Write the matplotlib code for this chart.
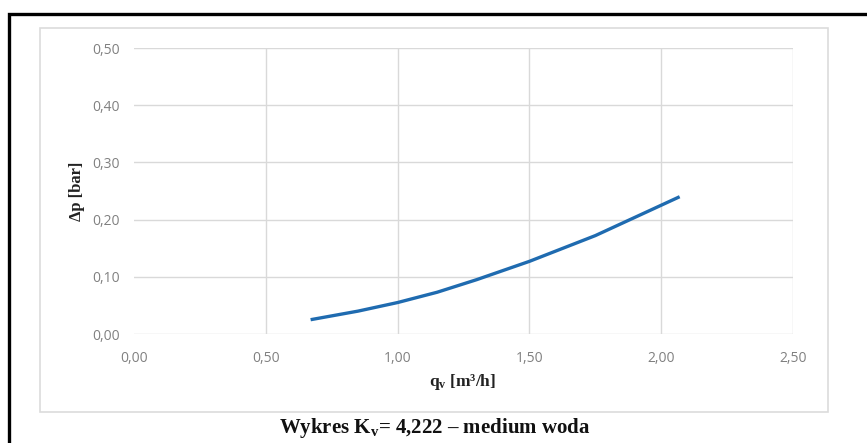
import matplotlib
matplotlib.use("Agg")
import matplotlib.pyplot as plt
from matplotlib.patches import Rectangle
from matplotlib.lines import Line2D
from matplotlib.ticker import FuncFormatter

# data
q_flow = [0.67, 0.85, 1.00, 1.15, 1.30, 1.50, 1.75, 2.07]
dp_bar = [0.025, 0.040, 0.055, 0.073, 0.095, 0.127, 0.172, 0.240]
x_ticks = [0.0, 0.5, 1.0, 1.5, 2.0, 2.5]
y_ticks = [0.0, 0.1, 0.2, 0.3, 0.4, 0.5]

plt.rcParams['mathtext.fontset'] = 'custom'
plt.rcParams['mathtext.rm'] = 'Liberation Serif:bold'
plt.rcParams['mathtext.it'] = 'Liberation Serif:bold'
plt.rcParams['mathtext.bf'] = 'Liberation Serif:bold'

W, H = 867, 443
fig = plt.figure(figsize=(W / 100, H / 100), dpi=100)
fig.patch.set_facecolor('white')

def fx(px):
    return px / W

def fy(py):
    return 1 - py / H

# outer black frame (top + left)
fig.add_artist(Line2D([fx(9), fx(9), fx(870)], [fy(460), fy(14), fy(14)], color='black',
                      lw=2.4, solid_joinstyle='miter', transform=fig.transFigure))
# inner light chart-area frame
fig.add_artist(Rectangle((fx(40), fy(412)), fx(828) - fx(40), fy(28) - fy(412),
                         fill=False, edgecolor='#dcdcdc', lw=1.2,
                         transform=fig.transFigure))

ax = fig.add_axes([fx(134), fy(334), fx(793) - fx(134), fy(48) - fy(334)])
ax.set_xlim(0, 2.5)
ax.set_ylim(0, 0.5)
for s in ax.spines.values():
    s.set_visible(False)

for yv in y_ticks:
    ax.axhline(yv, color='#d9d9d9', lw=1.0, zorder=1)
for xv in x_ticks[1:]:
    ax.axvline(xv, color='#d9d9d9', lw=1.0, zorder=1)

ax.plot(q_flow, dp_bar, color='#1F6BB0', lw=2.4, solid_capstyle='butt', zorder=3)

fmt = FuncFormatter(lambda v, p: f"{v:.2f}".replace('.', ','))
ax.set_xticks(x_ticks)
ax.set_yticks(y_ticks)
ax.xaxis.set_major_formatter(fmt)
ax.yaxis.set_major_formatter(fmt)
ax.tick_params(axis='both', length=0, labelsize=10, labelcolor='#808080')
ax.tick_params(axis='x', pad=12)
ax.tick_params(axis='y', pad=10)
for lab in ax.get_xticklabels() + ax.get_yticklabels():
    lab.set_family('Open Sans')

fig.text(fx(77), fy(191), 'Δp [bar]', rotation=90, ha='center', va='center',
         family='Liberation Serif', weight='bold', fontsize=12, color='#222222')
fig.text(fx(463), fy(382), 'q$_\\mathrm{v}$ [m³/h]', ha='center', va='center',
         family='Liberation Serif', weight='bold', fontsize=12.5, color='#222222')
fig.text(fx(435), fy(428), 'Wykres K$_\\mathrm{v}$= 4,222 – medium woda', ha='center', va='center',
         family='Liberation Serif', weight='bold', fontsize=15, color='#111111')

fig.savefig('out.png', dpi=100)
